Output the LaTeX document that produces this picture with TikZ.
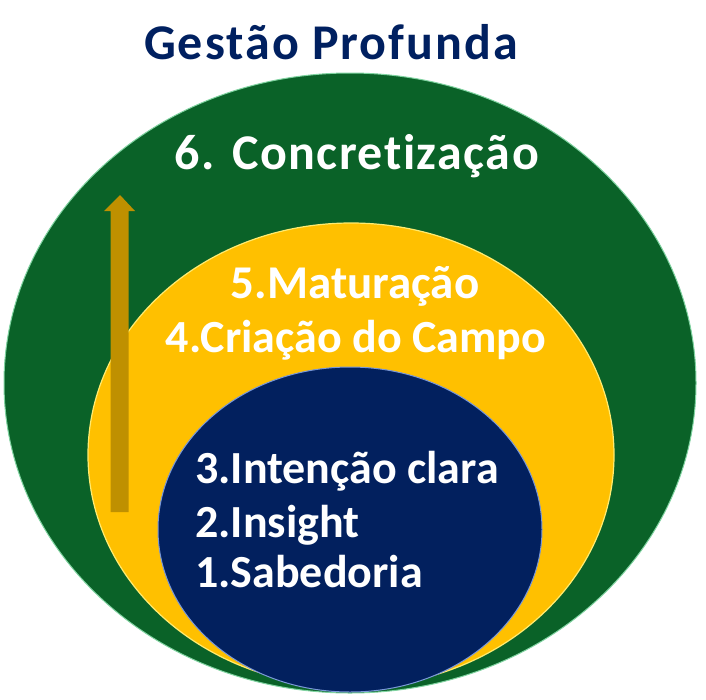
\documentclass[tikz,border=0pt]{standalone}
\usepackage{fontspec}
\setmainfont{Carlito}[Ligatures=NoCommon]
\newfontfamily\wideA{Carlito}[Ligatures=NoCommon,LetterSpace=3]
\newfontfamily\wideT{Carlito}[Ligatures=NoCommon,LetterSpace=4]
\definecolor{gGreen}{HTML}{0A6228}
\definecolor{gGreenRim}{HTML}{7FD3A0}
\definecolor{gYellow}{HTML}{FFC000}
\definecolor{gYellowRim}{HTML}{FFEB70}
\definecolor{gBlue}{HTML}{02205E}
\definecolor{gBlueRim}{HTML}{7A98D8}
\definecolor{gArrow}{HTML}{BF9000}
\definecolor{gTitle}{HTML}{002060}
\usetikzlibrary{shapes.geometric}
\tikzset{
  disc/.style={ellipse, inner sep=0pt, outer sep=0pt},
  wtext/.style={text=white, font=\bfseries\fontsize{46}{46}\selectfont, inner sep=0pt, anchor=base},
  ltext/.style={wtext, anchor=base west},
}
\begin{document}
\begin{tikzpicture}[x=1pt,y=-1pt]
\useasboundingbox (0,0) rectangle (706,699);
\fill[white] (0,0) rectangle (706,699);
% discs
\node[disc, fill=gGreen, draw=gGreenRim, line width=1pt, minimum width=692pt, minimum height=620pt] (outer) at (350,383) {};
\node[disc, fill=gYellow, draw=gYellowRim, line width=1.2pt, minimum width=526pt, minimum height=464pt] (middle) at (351,455) {};
\node[disc, fill=gBlue, draw=gBlueRim, line width=1pt, minimum width=384pt, minimum height=325pt] (inner) at (350,529.5) {};
% arrow
\coordinate (atip) at (120,195);
\fill[gArrow] (110.5,512) -- (110.5,211) -- (104,211) -- (atip) -- (135,211) -- (128.5,211) -- (128.5,512) -- cycle;
% texts
\node[text=gTitle, font=\wideT\bfseries\fontsize{50}{50}\selectfont, inner sep=0pt, anchor=base] (title) at (331,59) {Gestão Profunda};
\node[wtext, font=\wideA\bfseries\fontsize{50}{50}\selectfont] (t6) at (357,169) {6. Concretização};
\node[wtext, font=\bfseries\fontsize{47}{47}\selectfont] (t5) at (355,298) {5.Maturação};
\node[wtext] (t4) at (356,352) {4.Criação do Campo};
\node[ltext] (t3) at (195,483) {3.Intenção clara};
\node[ltext] (t2) at (195,537) {2.Insight};
\node[ltext] (t1) at (195,587) {1.Sabedoria};
\end{tikzpicture}
\end{document}
